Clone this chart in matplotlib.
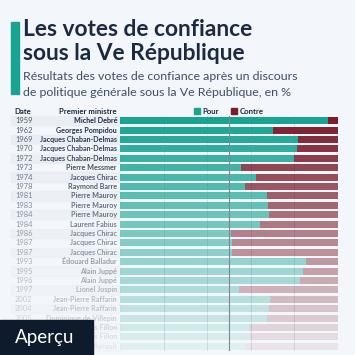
import numpy as np
import matplotlib.pyplot as plt
import matplotlib.transforms as mtransforms
from matplotlib.patches import Rectangle

plt.rcParams['font.family'] = ['Lato', 'DejaVu Sans']

# data
dates = ['1959', '1962', '1969', '1970', '1972', '1973', '1974', '1978', '1981', '1983',
         '1984', '1984', '1986', '1987', '1987', '1993', '1995', '1996', '1997', '2002',
         '2004', '2005', '2007', '2010', '2012']
ministres = ['Michel Debré', 'Georges Pompidou', 'Jacques Chaban-Delmas', 'Jacques Chaban-Delmas',
             'Jacques Chaban-Delmas', 'Pierre Messmer', 'Jacques Chirac', 'Raymond Barre',
             'Pierre Mauroy', 'Pierre Mauroy', 'Pierre Mauroy', 'Laurent Fabius', 'Jacques Chirac',
             'Jacques Chirac', 'Jacques Chirac', 'Édouard Balladur', 'Alain Juppé', 'Alain Juppé',
             'Lionel Jospin', 'Jean-Pierre Raffarin', 'Jean-Pierre Raffarin', 'Dominique de Villepin',
             'François Fillon', 'François Fillon', 'Jean-Marc Ayrault']
pour = [95.3, 70.0, 81.5, 81.2, 79.7, 55.5, 62.4, 57.3, 67.4, 67.9,
        68.3, 64.2, 50.9, 51.4, 51.4, 85.3, 84.0, 82.6, 54.6, 68.8,
        68.3, 67.4, 59.2, 59.6, 57.8]
contre = [100 - p for p in pour]

W, H = 355, 355
bg = '#f3f6fa'
teal = '#17a493'
red = '#7a1c2b'
navy = '#1b2a41'

fig = plt.figure(figsize=(W / 100, H / 100), dpi=100, facecolor=bg)

def fx(px):
    return px / W

def fy(py):
    return 1 - py / H

# title block
fig.patches.append(Rectangle((fx(11), fy(94)), fx(8), fy(22) - fy(94),
                             transform=fig.transFigure, color=teal, zorder=1))
fig.text(fx(23), fy(30), 'Les votes de confiance', fontsize=16.4, fontweight='bold',
         color=navy, va='center', ha='left')
fig.text(fx(23), fy(53), 'sous la Ve République', fontsize=16.4, fontweight='bold',
         color=navy, va='center', ha='left')
fig.text(fx(23), fy(76), 'Résultats des votes de confiance après un discours', fontsize=8.9,
         color='#3d4f66', va='center', ha='left')
fig.text(fx(23), fy(92), 'de politique générale sous la Ve République, en %', fontsize=8.9,
         color='#3d4f66', va='center', ha='left')

# column headers + legend
fig.text(fx(14), fy(111), 'Date', fontsize=5.6, fontweight='bold', color=navy, va='center')
fig.text(fx(117), fy(111), 'Premier ministre', fontsize=5.6, fontweight='bold', color=navy,
         va='center', ha='right')
fig.patches.append(Rectangle((fx(194), fy(114)), fx(6), fy(0) - fy(6),
                             transform=fig.transFigure, color=teal))
fig.text(fx(202), fy(111), 'Pour', fontsize=5.6, fontweight='bold', color=navy, va='center')
fig.patches.append(Rectangle((fx(231), fy(114)), fx(6), fy(0) - fy(6),
                             transform=fig.transFigure, color=red))
fig.text(fx(240), fy(111), 'Contre', fontsize=5.6, fontweight='bold', color=navy, va='center')

# bars
n = len(dates)
top, row_h = 116, 9.4
ax = fig.add_axes([fx(120), fy(top + row_h * n), fx(338) - fx(120), row_h * n / H])
ax.set_facecolor('none')
ax.set_xlim(0, 100)
ax.set_ylim(n - 0.5, -0.5)
ax.axis('off')

trans = mtransforms.blended_transform_factory(fig.transFigure, ax.transData)
y = np.arange(n)
alphas = 1 - 0.92 * y / (n - 1)

for i in range(n):
    if i % 2 == 0:
        ax.add_patch(Rectangle((fx(11), i - 0.5), fx(120) - fx(11), 1, transform=trans,
                               color='#e9eef4', alpha=alphas[i], clip_on=False, zorder=0))
    ax.barh(i, pour[i], height=0.75, color=teal, alpha=alphas[i], zorder=2)
    ax.barh(i, contre[i], left=pour[i], height=0.75, color=red, alpha=alphas[i], zorder=2)
    ax.text(fx(15), i, dates[i], transform=trans, fontsize=5.4, color='#4a5566',
            alpha=alphas[i], va='center', ha='left')
    ax.text(fx(117), i, ministres[i], transform=trans, fontsize=5.1, fontweight='bold',
            color=navy, alpha=alphas[i], va='center', ha='right')

for g in [20, 40, 60, 80]:
    ax.axvline(g, color='#d5dbe3', lw=0.6, zorder=1)
ax.axvline(50, color='#7d8896', lw=0.8, zorder=3)

# preview badge
fig.patches.append(Rectangle((0, 0), fx(93), fy(320), transform=fig.transFigure,
                             color='#0d1b2c', zorder=5))
fig.text(fx(15), fy(338), 'Aperçu', fontsize=13.5, color='white', va='center', ha='left',
         zorder=6)

fig.savefig('out.png', dpi=100, facecolor=bg)
